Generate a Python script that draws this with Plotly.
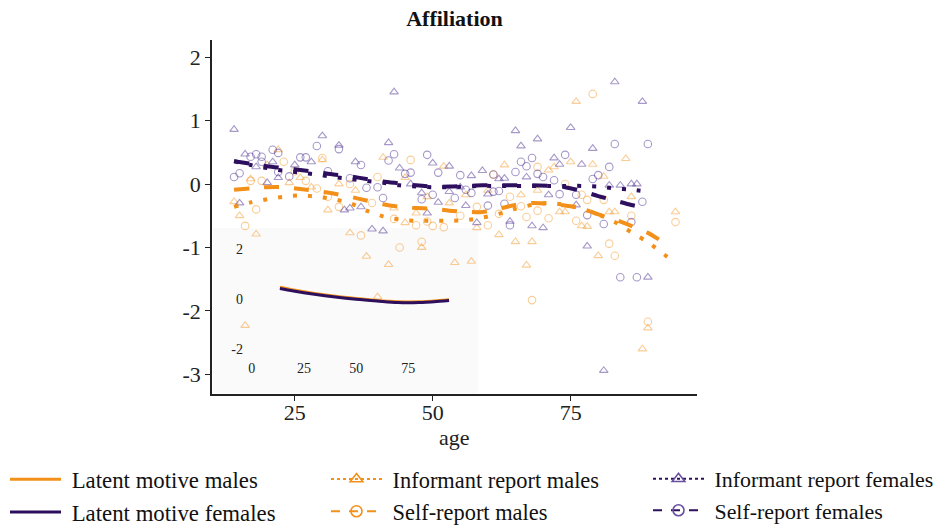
import plotly.graph_objects as go

# ---------------- data ----------------
inf_m_age = [14, 15, 18, 17, 22, 24, 30, 31, 16, 36, 35, 38, 42, 48, 54, 40, 43, 45, 47, 41, 52, 72, 71, 75, 76, 56, 66, 73, 74, 58,
             62, 65, 68, 78, 57, 67, 79, 81, 85, 82, 83, 94, 77, 80, 89, 88, 20, 26, 28, 33, 45, 49, 53, 60, 63, 69, 86]
inf_m_val = [-0.28, -0.5, -0.79, 0.08, 0.54, 0.02, 0.38, -0.41, -2.23, -0.1, -0.77, -1.14, -1.27, -1.0, -1.24, -1.78, -0.38, -0.61, -0.46, 0.42, 0.28, 0.27, 0.22, 0.35, 1.3, -0.17, -0.17, -0.44, -0.44, -0.69,
             -0.8, -0.91, -0.91, -0.67, -1.22, -1.28, 0.31, 0.12, 0.4, -0.44, -0.44, -0.44, -0.66, -1.13, -2.27, -2.6, 0.3, 0.1, -0.05, 0.0, 0.1, -0.2, -0.3, -0.1, 0.3, -0.1, -0.2]

self_m_age = [18, 16, 17, 19, 29, 33, 37, 44, 48, 40, 46, 43, 47, 49, 50, 52, 69, 61, 58, 62, 66, 67, 71, 69, 76, 60, 68, 79, 77, 78,
              81, 82, 83, 94, 89, 23, 25, 27, 31, 35, 39, 55, 64, 74, 86, 30]
self_m_val = [-0.4, -0.66, 0.05, 0.05, -0.07, -0.36, -0.81, -1.0, -0.91, 0.11, 0.38, -0.55, -0.65, -0.59, -0.66, -0.68, 0.27, 0.15, -0.36, -0.47, -0.35, -0.52, -0.54, -0.42, -0.58, -0.65, -1.83, 1.42, -0.17, -0.25,
              -0.25, -0.94, -1.13, -0.6, -2.17, 0.35, 0.2, 0.05, -0.2, 0.0, -0.3, -0.5, -0.2, 0.0, -0.5, 0.41]

inf_f_age = [14, 15, 16, 18, 20, 21, 25, 28, 30, 33, 36, 42, 43, 50, 53, 44, 34, 35, 37, 39, 41, 48, 51, 49, 53, 65, 75, 69, 66, 72,
             73, 77, 59, 57, 62, 63, 67, 60, 71, 56, 76, 58, 64, 68, 70, 78, 83, 88, 79, 82, 84, 86, 87, 89, 81, 22, 46, 55]
inf_f_val = [0.86, -0.30, 0.47, 0.27, 0.02, 0.35, 0.3, 0.35, 0.76, 0.61, 0.35, 0.65, 1.45, 0.33, 0.28, 0.25, -0.41, -0.38, -0.36, -0.71, -0.74, -0.14, -0.29, -0.46, -0.12, 0.84, 0.89, 0.71, 0.6, 0.41,
             0.31, 0.31, 0.21, 0.13, 0.08, 0.09, 0.11, -0.16, -0.17, -0.34, -0.33, -0.61, -0.59, -0.66, -0.69, -0.98, 1.61, 1.3, 0.56, -0.02, -0.02, 0.0, 0.0, -1.47, -2.94, 0.1, 0.0, -0.05]

self_f_age = [14, 15, 17, 18, 19, 19, 21, 22, 22, 24, 26, 27, 29, 33, 43, 42, 49, 51, 45, 46, 35, 41, 48, 50, 54, 55, 40, 38, 66, 67,
              68, 74, 65, 61, 69, 70, 72, 56, 57, 61, 62, 73, 76, 60, 63, 78, 64, 83, 89, 82, 80, 79, 88, 81, 86, 84, 87, 31, 37]
self_f_val = [0.11, 0.17, 0.43, 0.47, 0.43, 0.35, 0.54, 0.49, 0.19, 0.12, 0.42, 0.42, 0.6, 0.55, 0.47, 0.37, 0.46, 0.18, 0.16, 0.18, 0.09, -0.22, -0.24, -0.17, -0.22, 0.14, -0.05, -0.06, 0.35, 0.28,
              0.41, 0.46, 0.19, 0.15, 0.16, 0.11, 0.06, -0.09, -0.14, -0.12, -0.11, -0.16, -0.17, -0.34, -0.31, -0.49, -0.65, 0.63, 0.63, 0.27, 0.14, 0.08, -0.28, -0.63, -0.6, -1.47, -1.47, 0.2, 0.3]

# smoothed curves
sm_f_age = [14, 17, 20, 23, 26, 29, 32, 35, 38, 41, 44, 47, 50, 53, 56, 59, 62, 65, 68, 71, 74, 77, 80, 83, 86, 89]
inf_f_fit = [0.36, 0.30, 0.25, 0.21, 0.18, 0.15, 0.11, 0.08, 0.05, 0.02, -0.02, -0.04, -0.05, -0.05, -0.04, -0.03, -0.03, -0.03, -0.03, -0.03, -0.03, -0.03, -0.04, -0.07, -0.09, -0.12]
sf_f_age = [14, 17, 20, 23, 26, 29, 32, 35, 38, 41, 44, 47, 50, 53, 56, 59, 62, 65, 68, 71, 74, 77, 80, 83, 86, 87.5]
self_f_fit = [0.36, 0.32, 0.28, 0.25, 0.22, 0.19, 0.15, 0.12, 0.08, 0.04, 0.01, -0.02, -0.04, -0.04, -0.03, -0.02, -0.02, -0.02, -0.02, -0.03, -0.05, -0.11, -0.19, -0.26, -0.33, -0.36]
sm_m_age = [14, 17, 20, 23, 26, 29, 32, 35, 38, 41, 44, 47, 50, 53, 56, 59, 62, 65, 68, 71, 74, 77, 80, 83, 86, 89, 92]
self_m_fit = [-0.09, -0.07, -0.05, -0.05, -0.08, -0.11, -0.15, -0.2, -0.26, -0.32, -0.36, -0.38, -0.39, -0.42, -0.44, -0.44, -0.39, -0.33, -0.30, -0.31, -0.34, -0.38, -0.48, -0.56, -0.66, -0.77, -0.93]
im_age = [14, 17, 20, 23, 26, 29, 32, 35, 38, 41, 44, 47, 50, 53, 56, 59, 62, 65, 68, 71, 74, 77, 80, 83, 86, 89, 93.3]
inf_m_fit = [-0.36, -0.29, -0.24, -0.2, -0.18, -0.2, -0.24, -0.3, -0.42, -0.51, -0.56, -0.58, -0.58, -0.58, -0.57, -0.53, -0.47, -0.39, -0.33, -0.30, -0.33, -0.39, -0.48, -0.6, -0.76, -0.92, -1.2]

lat_age = [13.5, 20, 30, 40, 50, 60, 70, 80, 90, 94.5]
lat_m = [0.48, 0.37, 0.23, 0.12, 0.03, -0.05, -0.10, -0.10, -0.05, -0.02]
lat_f = [0.43, 0.33, 0.20, 0.09, 0.00, -0.07, -0.13, -0.13, -0.08, -0.05]

main_y_ticks = [-3, -2, -1, 0, 1, 2]
main_y_text = ["-3", "-2", "-1", "0", "1", "2"]
main_x_ticks = [25, 50, 75]
inset_x_ticks = [0, 25, 50, 75]
inset_y_ticks = [-2, 0, 2]
inset_y_text = ["-2", "0", "2"]

# ---------------- styles ----------------
ORANGE = "#F39019"
PURPLE = "#2D0F5E"
ORANGE_PT = "rgba(243,144,25,0.45)"
PURPLE_PT = "rgba(70,40,140,0.48)"
PURPLE_LEG = "#6A4FA0"
SERIF = "Liberation Serif"
DASH = "15px,15px"
DOT = "4px,11px"
NB = "\u00a0"

fig = go.Figure()

def pts(x, y, sym, col):
    fig.add_trace(go.Scatter(x=x, y=y, mode="markers", showlegend=False, hoverinfo="skip",
                             marker=dict(symbol=sym, size=7.5, color=col, line=dict(color=col, width=1.1))))

pts(inf_m_age, inf_m_val, "triangle-up-open", ORANGE_PT)
pts(self_m_age, self_m_val, "circle-open", ORANGE_PT)
pts(inf_f_age, inf_f_val, "triangle-up-open", PURPLE_PT)
pts(self_f_age, self_f_val, "circle-open", PURPLE_PT)

def curve(x, y, col, dash):
    fig.add_trace(go.Scatter(x=x, y=y, mode="lines", showlegend=False, hoverinfo="skip",
                             line=dict(color=col, width=4, dash=dash, shape="spline", smoothing=0.8)))

curve(im_age, inf_m_fit, ORANGE, DOT)
curve(sm_m_age, self_m_fit, ORANGE, DASH)
curve(sf_f_age, self_f_fit, PURPLE, DASH)
curve(sm_f_age, inf_f_fit, PURPLE, DOT)

# inset latent curves
fig.add_trace(go.Scatter(x=lat_age, y=lat_m, mode="lines", xaxis="x2", yaxis="y2", showlegend=False,
                         hoverinfo="skip", line=dict(color=ORANGE, width=3, shape="spline")))
fig.add_trace(go.Scatter(x=lat_age, y=lat_f, mode="lines", xaxis="x2", yaxis="y2", showlegend=False,
                         hoverinfo="skip", line=dict(color=PURPLE, width=3, shape="spline")))

# legend entries
def leg(name, legend, col, dash=None, sym=None, mcol=None, width=2):
    mode = "lines+markers" if sym else "lines"
    kw = dict(x=[None], y=[None], mode=mode, name=NB + name, legend=legend, legendgroup=name,
              line=dict(color=col, width=width, dash=dash or "solid"))
    if sym:
        kw["marker"] = dict(symbol=sym, size=11, color=mcol, line=dict(color=mcol, width=1.6))
    fig.add_trace(go.Scatter(**kw))

leg("Latent motive males", "legend", ORANGE, width=3)
leg("Latent motive females", "legend", PURPLE, width=3)
leg("Informant report males", "legend2", ORANGE, "dot", "triangle-up-open", ORANGE)
leg("Self-report males", "legend2", ORANGE, "dash", "circle-open", ORANGE)
leg("Informant report females", "legend3", PURPLE, "dot", "triangle-up-open", PURPLE_LEG)
leg("Self-report females", "legend3", PURPLE, "dash", "circle-open", PURPLE_LEG)

# geometry (pixels -> paper)
L, R, T, B = 212, 697, 40, 394
W, H = R - L, B - T
def px(x): return (x - L) / W
def py(y): return (B - y) / H

def legend_style(x, size):
    return dict(orientation="v", xanchor="left", yanchor="top", bgcolor="rgba(0,0,0,0)",
                font=dict(family=SERIF, size=size, color="#111"), itemwidth=51,
                tracegroupgap=0, y=py(458), x=px(x))

fig.add_shape(type="rect", xref="paper", yref="paper", x0=px(213), x1=px(478), y0=py(393), y1=py(228),
              fillcolor="#FAFAFA", line=dict(width=0), layer="below")

axis_font = dict(family=SERIF, size=22, color="#222")
fig.update_layout(
    width=941, height=526,
    margin=dict(l=L, r=941 - R, t=T, b=526 - B, autoexpand=False),
    paper_bgcolor="white", plot_bgcolor="rgba(0,0,0,0)",
    title=dict(text="<b>Affiliation</b>", x=px((L + R) / 2), xref="paper", xanchor="center",
               y=1 - 18 / 526, yanchor="middle", font=dict(family=SERIF, size=22, color="#111")),
    xaxis=dict(range=[10.0, 97.9], tickvals=main_x_ticks, showgrid=False, zeroline=False,
               showline=True, linecolor="#222", linewidth=1.5, ticks="outside", ticklen=5,
               tickcolor="#222", tickfont=axis_font, ticklabelstandoff=-7),
    yaxis=dict(range=[-3.31, 2.27], tickvals=main_y_ticks, ticktext=main_y_text, showgrid=False,
               zeroline=False, showline=True, linecolor="#222", linewidth=1.5, ticks="outside",
               ticklen=5, tickcolor="#222", tickfont=axis_font),
    xaxis2=dict(domain=[px(244), px(476)], anchor="y2", range=[-3.7, 107.4], tickvals=inset_x_ticks,
                showgrid=False, zeroline=False, showline=False, ticks="",
                tickfont=dict(family=SERIF, size=14, color="#222")),
    yaxis2=dict(domain=[py(358), py(236)], anchor="x2", range=[-2.35, 2.53], tickvals=inset_y_ticks,
                ticktext=inset_y_text, showgrid=False, zeroline=False, showline=False, ticks="",
                tickfont=dict(family=SERIF, size=14, color="#222")),
    legend=legend_style(5, 22.8),
    legend2=legend_style(326, 22.4),
    legend3=legend_style(648, 21.9),
    annotations=[dict(text="age", x=0.5, y=py(437), xref="paper", yref="paper", showarrow=False,
                      xanchor="center", yanchor="middle", font=dict(family=SERIF, size=22, color="#222"))],
)

fig.write_html("out.html")
